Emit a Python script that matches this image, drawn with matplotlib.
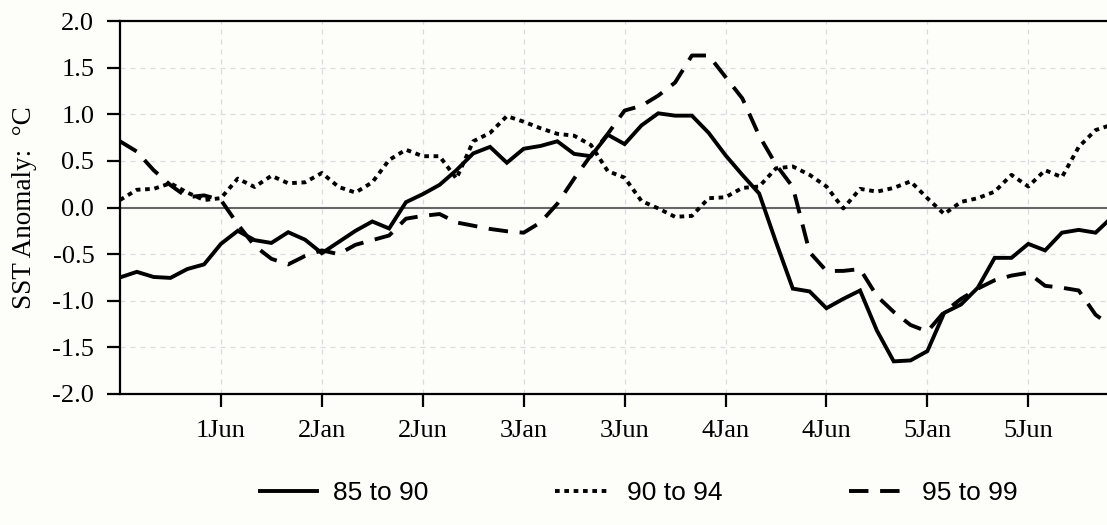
import matplotlib
matplotlib.use("Agg")
import matplotlib.pyplot as plt
from matplotlib import font_manager
import numpy as np

# ---- data (monthly SST anomaly, degC) ----
months = list(range(60))
tick_pos = [6, 12, 18, 24, 30, 36, 42, 48, 54]
tick_labels = ["1Jun", "2Jan", "2Jun", "3Jan", "3Jun", "4Jan", "4Jun", "5Jan", "5Jun"]
y_ticks = [-2.0, -1.5, -1.0, -0.5, 0.0, 0.5, 1.0, 1.5, 2.0]

s85_90 = [-0.75, -0.69, -0.745, -0.755, -0.66, -0.61, -0.39, -0.25, -0.35, -0.38,
          -0.265, -0.345, -0.49, -0.37, -0.25, -0.15, -0.225, 0.057, 0.143, 0.243,
          0.40, 0.58, 0.65, 0.48, 0.63, 0.66, 0.71, 0.575, 0.55, 0.78,
          0.68, 0.88, 1.01, 0.985, 0.985, 0.80, 0.56, 0.35, 0.15, -0.37,
          -0.87, -0.90, -1.08, -0.98, -0.89, -1.32, -1.65, -1.64, -1.54, -1.13,
          -1.04, -0.86, -0.54, -0.54, -0.39, -0.46, -0.27, -0.24, -0.27, -0.10]

s90_94 = [0.08, 0.19, 0.20, 0.26, 0.16, 0.08, 0.10, 0.31, 0.22, 0.34,
          0.26, 0.27, 0.37, 0.22, 0.16, 0.27, 0.51, 0.62, 0.55, 0.55,
          0.31, 0.71, 0.80, 0.98, 0.92, 0.85, 0.79, 0.77, 0.67, 0.39,
          0.32, 0.07, -0.01, -0.10, -0.09, 0.10, 0.11, 0.21, 0.225, 0.42,
          0.44, 0.35, 0.225, -0.01, 0.20, 0.17, 0.21, 0.28, 0.10, -0.07,
          0.06, 0.10, 0.17, 0.35, 0.225, 0.40, 0.325, 0.65, 0.83, 0.89]

s95_99 = [0.71, 0.60, 0.40, 0.24, 0.11, 0.13, 0.08, -0.18, -0.41, -0.55,
          -0.61, -0.52, -0.46, -0.50, -0.40, -0.35, -0.30, -0.12, -0.09, -0.07,
          -0.16, -0.195, -0.23, -0.255, -0.27, -0.16, 0.04, 0.31, 0.56, 0.79,
          1.04, 1.09, 1.20, 1.34, 1.63, 1.63, 1.40, 1.17, 0.77, 0.46,
          0.22, -0.48, -0.68, -0.68, -0.66, -0.95, -1.12, -1.26, -1.33, -1.12,
          -0.98, -0.87, -0.78, -0.73, -0.70, -0.84, -0.86, -0.89, -1.15, -1.28]

series_labels = ["85 to 90", "90 to 94", "95 to 99"]

# ---- fonts ----
names = {f.name for f in font_manager.fontManager.ttflist}
serif = "Liberation Serif" if "Liberation Serif" in names else "DejaVu Serif"
sans = "Liberation Sans" if "Liberation Sans" in names else "DejaVu Sans"
plt.rcParams["axes.unicode_minus"] = False

bg = "#fdfdfa"
fig = plt.figure(figsize=(11.07, 5.25), dpi=100, facecolor=bg)
ax = fig.add_axes([120 / 1107, 1 - 394 / 525, 986.5 / 1107, (394 - 21) / 525])
ax.set_facecolor(bg)

lw = 2.8
h1, = ax.plot(months, s85_90, color="black", lw=lw, solid_joinstyle="miter")
h2, = ax.plot(months, s90_94, color="black", lw=lw, linestyle=(0, (1.2, 1.2)))
h3, = ax.plot(months, s95_99, color="black", lw=lw, linestyle=(0, (5.0, 3.0)))

ax.axhline(0, color="#666666", lw=1.5, zorder=1)

ax.set_xlim(0, 58.65)
ax.set_ylim(-2.0, 2.0)
ax.set_xticks(tick_pos)
ax.set_xticklabels(tick_labels)
ax.set_yticks(y_ticks)
ax.set_yticklabels([f"{v:.1f}" for v in y_ticks])

for v in y_ticks:
    if v not in (-2.0, 0.0, 2.0):
        ax.axhline(v, color="#dcdcdc", lw=0.9, ls=(0, (4, 4)), zorder=0)
for p in tick_pos:
    ax.axvline(p, color="#dcdcdc", lw=0.9, ls=(0, (4, 4)), zorder=0)

for side in ("top", "bottom", "left"):
    ax.spines[side].set_linewidth(1.6)
ax.spines["right"].set_visible(False)

ax.tick_params(axis="both", direction="out", length=9.5, width=1.6,
               labelsize=19)
ax.tick_params(axis="x", pad=9)
ax.tick_params(axis="y", pad=9)
for lab in ax.get_xticklabels() + ax.get_yticklabels():
    lab.set_fontfamily(serif)

ax.set_ylabel("SST Anomaly:  °C", fontsize=19.5, fontfamily=serif)
ax.yaxis.set_label_coords(-0.084, 0.5)

leg = fig.legend([h1, h2, h3], series_labels, loc="center",
                 bbox_to_anchor=(0.577, 0.061), ncol=3, frameon=False,
                 prop={"family": sans, "size": 19},
                 handlelength=2.15, handletextpad=0.6, columnspacing=4.8)

fig.savefig("out.png", dpi=100, facecolor=bg)
